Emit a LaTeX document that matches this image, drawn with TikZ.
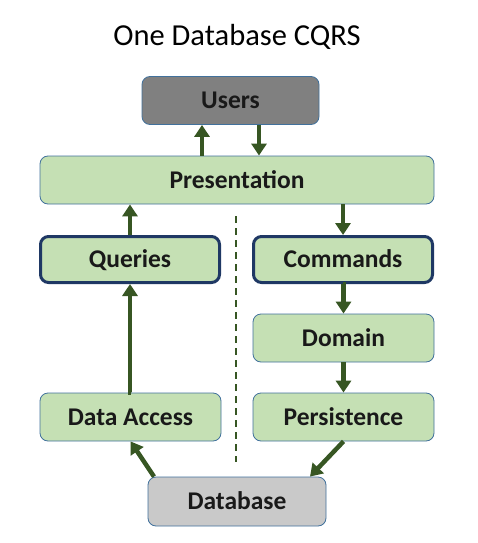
\documentclass[tikz,border=0pt]{standalone}
\usepackage{fontspec}
\setmainfont{Carlito}
\usetikzlibrary{arrows.meta}
\definecolor{boxgreen}{HTML}{C5E0B4}
\definecolor{boxedge}{HTML}{41719C}
\definecolor{arrgreen}{HTML}{375623}
\definecolor{darkedge}{HTML}{1F3864}
\tikzset{
	layer/.style={draw=boxedge,line width=0.8pt,fill=boxgreen,rounded corners=8pt,
		minimum height=48pt,font=\fontsize{25.5}{28}\selectfont\bfseries,text=black!90,
		inner sep=0pt,text height=16.5pt,text depth=0pt},
	cqbox/.style={layer,draw=darkedge,line width=3pt,minimum width=179pt,minimum height=46pt},
	arr/.style={draw=arrgreen,line width=4.5pt,-{Triangle[width=15pt,length=12pt]}},
}
\begin{document}
	\begin{tikzpicture}[x=1pt,y=-1pt]
		\useasboundingbox (0,0) rectangle (478,543);
		\node (title) at (237,37) {\fontsize{30.5}{34}\selectfont One Database CQRS};
		\node[layer,fill=black!50,minimum width=177pt] (users) at (230.5,100.5) {Users};
		\node[layer,minimum width=394pt] (pres) at (237,180) {Presentation};
		\node[cqbox] (qry) at (130,259.5) {Queries};
		\node[cqbox] (cmd) at (343,259.5) {Commands};
		\node[layer,minimum width=181pt] (dom) at (343.5,338) {Domain};
		\node[layer,minimum width=181pt] (dacc) at (130.5,417) {Data Access};
		\node[layer,minimum width=181pt] (pers) at (343.5,417) {Persistence};
		\node[layer,fill=black!21,minimum width=178pt,minimum height=49pt] (db) at (237,501.5) {Database};
		\coordinate (sepTop) at (236,216);
		\coordinate (sepBot) at (236,462);
		\draw[arrgreen,line width=1.5pt,dash pattern=on 7pt off 5pt] (sepTop) -- (sepBot);
		\draw[arr] ([xshift=-28.5pt]users.south |- pres.north) -- ([xshift=-28.5pt]users.south);
		\draw[arr] ([xshift=28.5pt]users.south) -- ([xshift=28.5pt]users.south |- pres.north);
		\draw[arr] (qry.north) -- (qry.north |- pres.south);
		\draw[arr] (cmd.north |- pres.south) -- (cmd.north);
		\draw[arr] (dacc.north) -- (dacc.north -| qry.south) -- (qry.south);
		\draw[arr] (cmd.south) -- (cmd.south -| dom.north) -- (dom.north);
		\draw[arr] (dom.south) -- (pers.north);
		\draw[arr] (pers.south) -- ([xshift=73pt]db.north);
		\draw[arr] ([xshift=-83pt]db.north) -- (dacc.south);
	\end{tikzpicture}
\end{document}
